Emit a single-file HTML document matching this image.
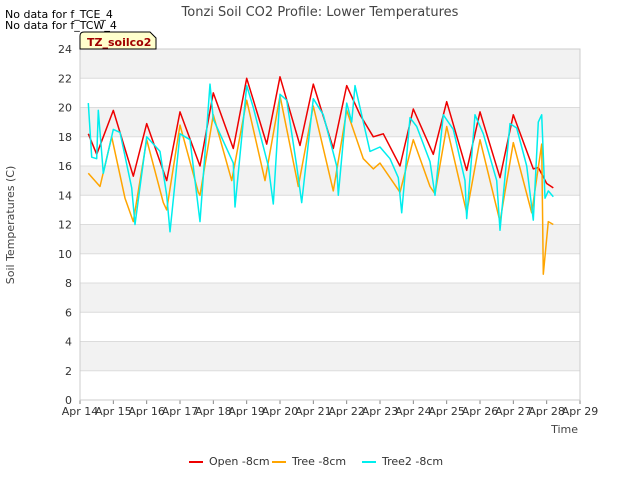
<!DOCTYPE html>
<html><head><meta charset="utf-8"><style>
body{margin:0;background:#fff;font-family:"DejaVu Sans","Liberation Sans",sans-serif;}
svg text{font-family:"DejaVu Sans","Liberation Sans",sans-serif;}
</style></head><body>
<svg id="chart" width="640" height="480" xmlns="http://www.w3.org/2000/svg">
<rect width="640" height="480" fill="#fff"/>
<text x="320" y="16" text-anchor="middle" font-size="13" fill="#444">Tonzi Soil CO2 Profile: Lower Temperatures</text>
<text x="5" y="18" font-size="11" fill="#000">No data for f_TCE_4</text>
<text x="5" y="29" font-size="11" fill="#000">No data for f_TCW_4</text>
<g id="plot"></g>
<g>
<path d="M80,49 L80,36 Q80,32 84,32 L150,32 L156,38 L156,49 Z" fill="#ffffcc" stroke="#000" stroke-width="1"/>
<text x="87" y="46" font-size="11" font-weight="bold" fill="#a00000">TZ_soilco2</text>
</g>
<text x="14" y="225" transform="rotate(-90 14 225)" text-anchor="middle" font-size="11" fill="#444">Soil Temperatures (C)</text>
<text x="578" y="433" text-anchor="end" font-size="11" fill="#444">Time</text>
<g id="legend"></g>
</svg>
<script>
const yTicks=[0,2,4,6,8,10,12,14,16,18,20,22,24];
const xTickLabels=["Apr 14","Apr 15","Apr 16","Apr 17","Apr 18","Apr 19","Apr 20","Apr 21","Apr 22","Apr 23","Apr 24","Apr 25","Apr 26","Apr 27","Apr 28","Apr 29"];
const seriesNames=["Open -8cm","Tree -8cm","Tree2 -8cm"];
const seriesColors=["#ee0000","#ffa500","#00eeee"];
const openDays=[0.25,0.5,1.0,1.6,2.0,2.6,3.0,3.6,4.0,4.6,5.0,5.6,6.0,6.6,7.0,7.6,8.0,8.4,8.8,9.1,9.6,10.0,10.6,11.0,11.6,12.0,12.6,13.0,13.6,13.75,14.0,14.2];
const openVals=[18.2,16.8,19.8,15.3,18.9,15.0,19.7,16.0,21.0,17.2,22.0,17.5,22.1,17.4,21.6,17.2,21.5,19.5,18.0,18.2,16.0,19.9,16.8,20.4,15.7,19.7,15.2,19.5,15.8,15.9,14.8,14.5];
const treeDays=[0.25,0.6,0.95,1.35,1.6,2.0,2.5,2.6,3.0,3.55,3.6,4.0,4.55,5.0,5.55,6.0,6.55,7.0,7.6,8.0,8.5,8.8,9.0,9.6,10.0,10.5,10.65,11.0,11.6,12.0,12.6,13.0,13.55,13.85,13.9,14.05,14.2];
const treeVals=[15.5,14.6,18.0,13.8,12.2,17.8,13.5,13.0,18.8,14.2,14.0,19.5,15.0,20.5,15.0,20.8,14.6,20.1,14.3,19.8,16.5,15.8,16.2,14.2,17.8,14.6,14.1,18.7,12.8,17.8,12.2,17.6,12.8,17.5,8.6,12.2,12.0];
const tree2Days=[0.25,0.35,0.5,0.55,0.7,1.0,1.2,1.55,1.65,2.0,2.4,2.6,2.7,3.0,3.3,3.6,3.9,4.0,4.6,4.65,5.0,5.2,5.65,5.8,6.0,6.2,6.5,6.65,7.0,7.3,7.7,7.75,8.0,8.15,8.25,8.7,9.0,9.3,9.55,9.65,9.9,10.1,10.5,10.65,10.9,11.2,11.55,11.6,11.85,12.1,12.5,12.6,12.9,13.1,13.4,13.6,13.75,13.85,13.95,14.05,14.2];
const tree2Vals=[20.3,16.6,16.5,19.8,15.5,18.5,18.3,14.5,12.0,18.0,17.0,14.0,11.5,18.2,17.8,12.2,21.6,19.2,16.2,13.2,21.5,20.0,16.0,13.4,20.9,20.5,16.0,13.5,20.6,19.5,16.0,14.0,20.3,19.0,21.5,17.0,17.3,16.5,15.2,12.8,19.3,18.7,16.3,14.0,19.5,18.5,15.0,12.4,19.5,18.2,15.0,11.6,18.9,18.6,16.0,12.3,19.0,19.5,13.8,14.3,13.9];
const NS="http://www.w3.org/2000/svg";
const L=80,R=580,T=49,B=400;
const xS=d=>L+(R-L)*d/15;
const yS=v=>B-(B-T)*v/24;
const plot=document.getElementById('plot');
function mk(tag,attrs,parent){const e=document.createElementNS(NS,tag);for(const k in attrs)e.setAttribute(k,attrs[k]);(parent||plot).appendChild(e);return e;}
// bands
for(let i=0;i<yTicks.length-1;i+=2){
  const b=mk('rect',{x:L,y:yS(yTicks[i+2]),width:R-L,height:yS(yTicks[i+1])-yS(yTicks[i+2]),fill:'#f2f2f2'});
  
  
}
yTicks.forEach(v=>{
  const g=mk('line',{x1:L,x2:R,y1:yS(v),y2:yS(v),stroke:'#dcdcdc','stroke-width':1});
  
  
  const t=mk('text',{x:L-8,y:yS(v)+4,'text-anchor':'end','font-size':11,fill:'#333'});
  t.textContent=v;
  
  
});
xTickLabels.forEach((s,i)=>{
  const tk=mk('line',{x1:xS(i),x2:xS(i),y1:B,y2:B+4,stroke:'#888'});
  
  
  const t=mk('text',{x:xS(i),y:B+15,'text-anchor':'middle','font-size':11,fill:'#333'});
  t.textContent=s;
  
  
});
const fr=mk('rect',{x:L,y:T,width:R-L,height:B-T,fill:'none',stroke:'#ccc'});


const all=[[openDays,openVals],[treeDays,treeVals],[tree2Days,tree2Vals]];
all.forEach((s,k)=>{
  const pts=s[0].map((d,i)=>xS(d).toFixed(1)+','+yS(s[1][i]).toFixed(1)).join(' ');
  const p=mk('polyline',{points:pts,fill:'none',stroke:seriesColors[k],'stroke-width':1.5,'stroke-linejoin':'round'});
  
  
});
const lg=document.getElementById('legend');
const lx=[189,272,362];
seriesNames.forEach((n,k)=>{
  const g=mk('g',{},lg);
  
  
  mk('line',{x1:lx[k],x2:lx[k]+14,y1:462,y2:462,stroke:seriesColors[k],'stroke-width':2},g);
  const t=mk('text',{x:lx[k]+20,y:465,'font-size':11,fill:'#333'},g);
  t.textContent=n;
});
</script>
</body></html>
